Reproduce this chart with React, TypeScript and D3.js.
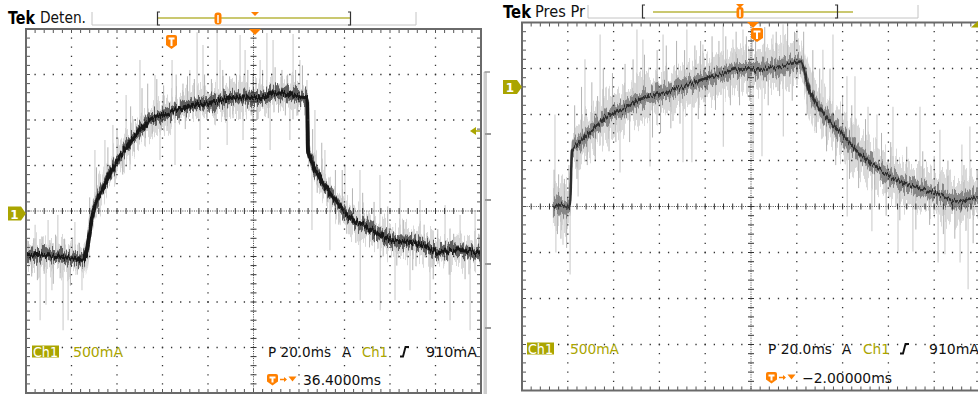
import React, { useEffect } from 'react';
import * as d3 from 'd3';

const W = 978;
const H = 394;

// ---- scope settings ----
const hDivisions = 10;
const vDivisions = 8;
const timePerDivMs = 20;
const currentPerDivMa = 500;

// ---- left capture ("Deten.") : time in ms from left edge, current in mA from screen centre ----
const leftTimeMs = [0, 6, 13, 19, 25, 26, 29.5, 34, 41, 49, 54.5, 63, 73, 81, 93, 103, 110, 117, 123.5, 124, 129, 135, 142, 150, 161, 172, 182, 191, 200];
const leftCurrentMa = [-500, -480, -495, -515, -535, -505, -10, 265, 590, 855, 1000, 1080, 1165, 1190, 1250, 1240, 1295, 1270, 1245, 670, 375, 155, -65, -175, -320, -350, -450, -430, -460];
// tall faint spikes
const leftSpikeTimeMs = [4, 6.2, 8.8, 9.7, 11.4, 14, 16.3, 18.5, 21.5, 24.6, 30.3, 34.7, 38.2, 44, 45.7, 50.1, 56.7, 58.9, 64.2, 65.5, 72, 75.2, 76.5, 77.8, 84, 85.3, 88.4, 94.1, 95.4, 96.3, 102.9, 105.9, 107.3, 108.6, 116, 117.4, 120.4, 123.5, 125.7, 127, 131.4, 133.6, 140.2, 146.8, 146.9, 155.6, 155.7, 162.2, 164.4, 168.8, 173.2, 177.6, 184.2, 186.4, 190.8, 195.2, 197.4];
const leftSpikeEndMa = [-150, -1200, -1030, -100, -870, -45, -1310, -1200, -120, -870, 670, 780, 945, 1275, 450, 1660, 1495, 560, 1660, 505, 1550, 1965, 670, 1825, 1955, 1660, 725, 1935, 780, 1770, 1660, 1955, 670, 1880, 780, 1945, 1660, 1440, -210, 1110, 670, -430, 505, 450, -980, 395, -1090, -980, 340, -870, 120, -980, 65, -1200, -45, -1310, 10];
// shorter, denser noise
const leftFuzzTimeMs = [1, 2.5, 3.5, 5, 7, 8, 10.5, 12, 13, 15, 17, 19.5, 20.5, 22.5, 23.5, 28, 31, 32.5, 36, 37.5, 40, 42.5, 46, 47.5, 51, 52.5, 53.5, 55.5, 57.5, 59.5, 60.5, 62, 66, 67.5, 69, 70, 71, 74, 78.5, 79.5, 81.5, 83, 86.5, 87.5, 89.5, 91, 92.5, 97.5, 99, 100, 101.5, 104, 106.5, 109.5, 111, 112.5, 114, 115, 118.5, 119.5, 121.5, 122.5, 126, 128, 130, 132.5, 136, 137.5, 139, 141, 143.5, 145, 148, 151, 153, 157, 159, 163, 166, 170, 175, 179, 181, 186, 188, 193, 199];
const leftFuzzEndMa = [-330, -720, -300, -760, -280, -690, -320, -800, -260, -740, -310, -820, -290, -700, -350, 150, 480, 150, 700, 350, 900, 400, 1150, 650, 1350, 800, 1400, 850, 1450, 900, 1380, 880, 1500, 950, 1400, 900, 1480, 1450, 1500, 1000, 1450, 1050, 1550, 1000, 1480, 1020, 1500, 1550, 1050, 1500, 1000, 1550, 1020, 1580, 1080, 1550, 1050, 1500, 1550, 1050, 1600, 1050, 900, 200, 750, 100, 450, -150, 450, -250, 250, -350, 200, -400, 100, -500, 50, -600, -100, -650, -150, -750, -200, -700, -250, -750, -250];

// ---- right capture ("Pres Pr") ----
const rightTimeMs = [13.5, 16.5, 19, 21, 21.8, 25, 29.7, 37, 44, 51.5, 58, 66, 73, 81, 88, 95, 102.6, 109.6, 116, 121.4, 125.8, 131.4, 139, 149, 160.7, 170.7, 182.5, 190, 198.7, 200];
const rightCurrentMa = [0, 25, -10, 0, 620, 700, 805, 975, 1060, 1165, 1210, 1270, 1330, 1400, 1440, 1490, 1490, 1510, 1540, 1575, 1240, 1020, 805, 545, 325, 215, 130, 55, 100, 80];
const rightSpikeTimeMs = [14.4, 14.8, 17.9, 21, 24.5, 27.5, 34.1, 42.8, 50.2, 52.8, 55.9, 61.6, 70.3, 72, 74.2, 79, 87.8, 87.9, 92.1, 96.5, 100.9, 104.8, 109.6, 114, 114.1, 120.1, 131.4, 135.8, 141.9, 142, 145.4, 151.1, 152.8, 155, 162, 164.2, 170.7, 173.8, 181.7, 182.5, 184.7, 191.3, 192.1, 194.8, 195.6];
const rightSpikeEndMa = [1000, -500, -415, -740, 110, 1600, 1870, 370, 1925, 1815, 435, 1870, 480, 1925, 480, 1760, 1980, 650, 1815, 1925, 510, 545, 1870, 1980, 760, 1925, 1705, 1870, 1415, -110, 1415, 1085, -270, 1000, 1085, -490, -490, 1085, -610, 835, -520, -610, 675, -900, 870];
const rightFuzzTimeMs = [14, 15.5, 16, 17, 18.5, 19.5, 20.5, 23, 24, 26, 28.5, 30.5, 32, 33, 35.5, 38, 39.5, 41, 45, 47, 48.5, 53.5, 57, 59, 60.5, 63, 65, 67.5, 69, 71, 75.5, 77, 78, 80, 83, 84.5, 86, 89, 91, 93.5, 95, 98, 99.5, 102, 106, 107.5, 111, 112.5, 116, 118, 119, 123, 124.5, 127, 128.5, 130, 133, 134.5, 137, 140, 143, 144, 147, 150, 154, 157, 159, 161, 165, 168, 172, 175, 178, 180, 184, 186, 189, 193, 197, 199];
const rightFuzzEndMa = [400, -300, 350, -350, 300, -450, 450, 1100, 300, 1300, 450, 1350, 500, 1200, 1500, 600, 1450, 700, 1550, 700, 1600, 1650, 750, 1700, 800, 1750, 850, 1800, 900, 1700, 1750, 950, 1800, 1000, 1850, 1050, 1800, 1850, 1100, 1900, 1100, 1850, 1150, 1900, 1950, 1100, 1900, 1200, 1950, 1150, 1900, 1900, 1000, 1700, 800, 1500, 600, 1500, 450, 1200, 300, 1100, 200, 950, 0, 800, -100, 700, -150, 650, -250, 600, -200, 550, -300, 500, -350, 450, -400, 400];

// marker / readout texts
const leftTitle = 'Deten.';
const rightTitle = 'Pres Pr';
const channelLabel = 'Ch1';
const scaleLabel = '500mA';
const timebaseLabel = 'P 20.0ms';
const acqLabel = 'A';
const trigLevelLabel = '910mA';
const leftDelayLabel = '36.4000ms';
const rightDelayLabel = '\u22122.00000ms';

const OLIVE = '#aaa500';
const ORANGE = '#ff8000';
const FONT = "'DejaVu Sans', 'Liberation Sans', sans-serif";

function interp(ts: number[], vs: number[], t: number) {
  const i = d3.bisectRight(ts, t);
  if (i <= 0) return vs[0];
  if (i >= ts.length) return vs[vs.length - 1];
  const t0 = ts[i - 1], t1 = ts[i];
  const f = (t - t0) / (t1 - t0);
  return vs[i - 1] + f * (vs[i] - vs[i - 1]);
}

type Geo = { x0: number; x1: number; y0: number; y1: number };

function Grid({ g }: { g: Geo }) {
  const dx = (g.x1 - g.x0) / hDivisions;
  const dy = (g.y1 - g.y0) / vDivisions;
  const els: JSX.Element[] = [];
  const mx = dx / 5, my = dy / 5;
  for (let i = 1; i < hDivisions; i++) {
    if (i === hDivisions / 2) continue;
    const x = g.x0 + i * dx;
    els.push(<line key={'v' + i} x1={x} x2={x} y1={g.y0} y2={g.y1} stroke="#333" strokeWidth={1.3}
      strokeDasharray={`1.3 ${my - 1.3}`} strokeDashoffset={0.65} />);
  }
  for (let j = 1; j < vDivisions; j++) {
    if (j === vDivisions / 2) continue;
    const y = g.y0 + j * dy;
    els.push(<line key={'h' + j} x1={g.x0} x2={g.x1} y1={y} y2={y} stroke="#333" strokeWidth={1.3}
      strokeDasharray={`1.3 ${mx - 1.3}`} strokeDashoffset={0.65} />);
  }
  const cx = g.x0 + dx * hDivisions / 2;
  const cy = g.y0 + dy * vDivisions / 2;
  els.push(<line key="cx" x1={cx} x2={cx} y1={g.y0} y2={g.y1} stroke="#444" strokeWidth={1} strokeDasharray="1 1.3" />);
  els.push(<line key="cy" x1={g.x0} x2={g.x1} y1={cy} y2={cy} stroke="#444" strokeWidth={1} strokeDasharray="1 1.3" />);
  for (let k = 1; k < hDivisions * 5; k++) {
    const x = g.x0 + k * mx;
    els.push(<line key={'tcx' + k} x1={x} x2={x} y1={cy - 3} y2={cy + 3} stroke="#333" strokeWidth={1} />);
    els.push(<line key={'tt' + k} x1={x} x2={x} y1={g.y0} y2={g.y0 + 4} stroke="#555" strokeWidth={1} />);
    els.push(<line key={'tb' + k} x1={x} x2={x} y1={g.y1} y2={g.y1 - 4} stroke="#555" strokeWidth={1} />);
  }
  for (let k = 1; k < vDivisions * 5; k++) {
    const y = g.y0 + k * my;
    els.push(<line key={'tcy' + k} x1={cx - 3} x2={cx + 3} y1={y} y2={y} stroke="#333" strokeWidth={1} />);
    els.push(<line key={'tl' + k} x1={g.x0} x2={g.x0 + 4} y1={y} y2={y} stroke="#555" strokeWidth={1} />);
    els.push(<line key={'tr' + k} x1={g.x1} x2={g.x1 - 4} y1={y} y2={y} stroke="#555" strokeWidth={1} />);
  }
  els.push(<rect key="border" x={g.x0} y={g.y0} width={g.x1 - g.x0} height={g.y1 - g.y0} fill="none" stroke="#6a6a6a" strokeWidth={2} />);
  return <g>{els}</g>;
}

function Trace({ g, id, ts, vs, sT, sV, fT, fV, halo, mid, coreW, coreC, midC }: {
  g: Geo; id: string; ts: number[]; vs: number[]; sT: number[]; sV: number[]; fT: number[]; fV: number[];
  halo: number; mid: number; coreW: number; coreC: string; midC: string;
}) {
  const x = d3.scaleLinear().domain([0, hDivisions * timePerDivMs]).range([g.x0, g.x1]);
  const y = d3.scaleLinear().domain([-currentPerDivMa * vDivisions / 2, currentPerDivMa * vDivisions / 2]).range([g.y1, g.y0]);
  const idx = d3.range(ts.length);
  const curve = d3.curveMonotoneX;
  const area = (w: number) => d3.area<number>().curve(curve).x(i => x(ts[i])).y0(i => y(vs[i] - w)).y1(i => y(vs[i] + w))(idx) || '';
  const line = d3.line<number>().curve(curve).x(i => x(ts[i])).y(i => y(vs[i]))(idx) || '';
  return (
    <g clipPath={`url(#${id})`}>
      <g filter="url(#streakBig)">
        <path d={area(halo)} fill="#d0d0d0" opacity={0.8} />
      </g>
      {sT.map((t, i) => (
        <line key={'s' + i} x1={x(t)} x2={x(t)} y1={y(interp(ts, vs, t))} y2={y(sV[i])} stroke="#cdcdcd" strokeWidth={1.1} />
      ))}
      {fT.map((t, i) => (
        <line key={'f' + i} x1={x(t)} x2={x(t)} y1={y(interp(ts, vs, t))} y2={y(fV[i])} stroke="#b4b4b4" strokeWidth={1} />
      ))}
      <g filter="url(#streakMid)">
        <path d={area(mid)} fill={midC} opacity={0.85} />
      </g>
      <g filter="url(#streakSmall)">
        <path d={line} fill="none" stroke={coreC} strokeWidth={coreW} strokeLinejoin="round" />
      </g>
    </g>
  );
}

function StreakFilter({ id, scale, seed, freq }: { id: string; scale: number; seed: number; freq: string }) {
  return (
    <filter id={id} filterUnits="userSpaceOnUse" x={0} y={0} width={W} height={H}>
      <feTurbulence type="fractalNoise" baseFrequency={freq} numOctaves={2} seed={seed} result="noise" />
      <feComponentTransfer in="noise" result="vnoise">
        <feFuncR type="linear" slope={0} intercept={0.5} />
        <feFuncG type="linear" slope={2.2} intercept={-0.6} />
      </feComponentTransfer>
      <feDisplacementMap in="SourceGraphic" in2="vnoise" scale={scale} xChannelSelector="R" yChannelSelector="G" />
    </filter>
  );
}

function TBox({ x, y, w, h }: { x: number; y: number; w: number; h: number }) {
  const d = `M${x + 2},${y} H${x + w - 2} Q${x + w},${y} ${x + w},${y + 2} V${y + h - 4} L${x + w / 2},${y + h} L${x},${y + h - 4} V${y + 2} Q${x},${y} ${x + 2},${y} Z`;
  return (
    <g>
      <path d={d} fill={ORANGE} />
      <path d={`M${x + 2.5},${y + 3.5} H${x + w - 2.5} M${x + w / 2},${y + 3.5} V${y + h - 3}`} stroke="#fff" strokeWidth={2} fill="none" />
    </g>
  );
}

function EdgeSym({ x, base }: { x: number; base: number }) {
  return <path d={`M${x},${base} h3 l2.5,-9.5 h3.5`} stroke="#111" strokeWidth={1.9} fill="none" />;
}

function Readout({ chX, chY, base, scaleX, pX, aX, ch2X, edgeX, trigX, base2, tX, delay, delayX, widths }: any) {
  return (
    <g fontFamily={FONT} fontSize={13.5}>
      <rect x={chX} y={chY} width={widths.chBox} height={12} fill={OLIVE} />
      <text x={chX + 1} y={base} fill="#fff" textLength={widths.chBox - 2} lengthAdjust="spacingAndGlyphs">{channelLabel}</text>
      <text x={scaleX} y={base} fill={OLIVE} textLength={widths.scale} lengthAdjust="spacingAndGlyphs">{scaleLabel}</text>
      <text x={pX} y={base} fill="#111" textLength={widths.p} lengthAdjust="spacingAndGlyphs">{timebaseLabel}</text>
      <text x={aX} y={base} fill="#111">{acqLabel}</text>
      <text x={ch2X} y={base} fill={OLIVE} textLength={widths.ch} lengthAdjust="spacingAndGlyphs">{channelLabel}</text>
      <EdgeSym x={edgeX} base={base} />
      <text x={trigX} y={base} fill="#111" textLength={widths.trig} lengthAdjust="spacingAndGlyphs">{trigLevelLabel}</text>
      <TBox x={tX} y={base2 - 10.5} w={11} h={11.5} />
      <line x1={tX + 13} x2={tX + 19} y1={base2 - 5} y2={base2 - 5} stroke={ORANGE} strokeWidth={1.5} />
      <path d={`M${tX + 17},${base2 - 7.5} L${tX + 20},${base2 - 5} L${tX + 17},${base2 - 2.5} Z`} fill={ORANGE} />
      <path d={`M${tX + 21.5},${base2 - 8} H${tX + 29.5} L${tX + 25.5},${base2 - 3} Z`} fill={ORANGE} />
      <text x={delayX} y={base2} fill="#111" textLength={widths.delay} lengthAdjust="spacingAndGlyphs">{delay}</text>
    </g>
  );
}

export default function App() {
  useEffect(() => {
    document.body.style.margin = '0';
    document.body.style.background = '#fff';
  }, []);

  const L: Geo = { x0: 26, x1: 481, y0: 29, y1: 393 };
  const R: Geo = { x0: 522, x1: 980, y0: 22.5, y1: 390.5 };

  return (
    <svg width={W} height={H} viewBox={`0 0 ${W} ${H}`} style={{ display: 'block', background: '#fff' }}>
      <defs>
        <clipPath id="clipL"><rect x={L.x0 + 1} y={L.y0 + 1} width={L.x1 - L.x0 - 2} height={L.y1 - L.y0 - 2} /></clipPath>
        <clipPath id="clipR"><rect x={R.x0 + 1} y={R.y0 + 1} width={R.x1 - R.x0 - 2} height={R.y1 - R.y0 - 2} /></clipPath>
        <StreakFilter id="streakBig" scale={22} seed={4} freq="0.45 0.02" />
        <StreakFilter id="streakMid" scale={10} seed={9} freq="0.55 0.03" />
        <StreakFilter id="streakSmall" scale={5} seed={2} freq="0.7 0.05" />
      </defs>

      {/* ---------- LEFT SCREEN ---------- */}
      <Trace g={L} id="clipL" ts={leftTimeMs} vs={leftCurrentMa} sT={leftSpikeTimeMs} sV={leftSpikeEndMa}
        fT={leftFuzzTimeMs} fV={leftFuzzEndMa} halo={140} mid={65} coreW={4} coreC="#151515" midC="#4a4a4a" />
      <Grid g={L} />

      {/* header left */}
      <text x={8} y={23.5} fontFamily="'DejaVu Sans', sans-serif" fontWeight="bold" fontSize={18} fill="#000" textLength={27} lengthAdjust="spacingAndGlyphs">Tek</text>
      <text x={40} y={23} fontFamily={FONT} fontSize={15} fill="#111" textLength={46} lengthAdjust="spacingAndGlyphs">{leftTitle}</text>
      <path d="M92,12 V25 H416 V12" fill="none" stroke="#c4c4c4" strokeWidth={1} />
      <line x1={157} x2={351} y1={18} y2={18} stroke="#b8b640" strokeWidth={1.6} />
      <path d="M160,12 H157.5 V25 H160 M348,12 H350.5 V25 H348" fill="none" stroke="#333" strokeWidth={1.2} />
      <rect x={214.5} y={12.5} width={7} height={12} rx={3} fill={ORANGE} />
      <line x1={218} x2={218} y1={15} y2={23} stroke="#fff" strokeWidth={1.5} />
      <path d="M251,12 H259 L255,16 Z" fill={ORANGE} />
      <path d="M249,29 H261 L255,35 Z" fill={ORANGE} />
      <TBox x={166} y={35} w={11} h={14} />

      {/* ground marker left */}
      <path d="M8,206.5 H21 L26,213.5 L21,220.5 H8 Z" fill={OLIVE} />
      <text x={14.5} y={218.5} fontFamily={FONT} fontSize={12} fontWeight="bold" fill="#fff" textAnchor="middle">1</text>

      {/* olive arrow + side bar */}
      <path d="M470,131 L476,127 L476,135 Z" fill={OLIVE} />
      <line x1={475} x2={480} y1={131} y2={131} stroke={OLIVE} strokeWidth={1.5} />
      <rect x={483.5} y={72} width={3.5} height={322} fill="#cdcdcd" />
      <path d="M490,72 H484.5" stroke="#999" strokeWidth={1.5} />
      {[134, 200, 264, 328].map(v => <line key={v} x1={485} x2={491} y1={v} y2={v} stroke="#9a9a9a" strokeWidth={2} />)}

      <Readout chX={32} chY={345.5} base={356.5} scaleX={73} pX={268} aX={342} ch2X={362} edgeX={400} trigX={426}
        base2={384.5} tX={267} delay={leftDelayLabel} delayX={303}
        widths={{ chBox: 27, scale: 50, p: 63, ch: 26, trig: 51, delay: 78 }} />

      {/* ---------- RIGHT SCREEN ---------- */}
      <Trace g={R} id="clipR" ts={rightTimeMs} vs={rightCurrentMa} sT={rightSpikeTimeMs} sV={rightSpikeEndMa}
        fT={rightFuzzTimeMs} fV={rightFuzzEndMa} halo={220} mid={80} coreW={2.6} coreC="#2e2e2e" midC="#7a7a7a" />
      <Grid g={R} />

      <text x={503} y={17.5} fontFamily="'DejaVu Sans', sans-serif" fontWeight="bold" fontSize={18} fill="#000" textLength={28} lengthAdjust="spacingAndGlyphs">Tek</text>
      <text x={535} y={17} fontFamily={FONT} fontSize={15} fill="#111" textLength={50} lengthAdjust="spacingAndGlyphs">{rightTitle}</text>
      <path d="M588,5 V18 H918 V5" fill="none" stroke="#c4c4c4" strokeWidth={1} />
      <line x1={653} x2={853} y1={12} y2={12} stroke="#b8b640" strokeWidth={1.6} />
      <path d="M645,5 H642.5 V18 H645 M835,5 H837.5 V18 H835" fill="none" stroke="#333" strokeWidth={1.2} />
      <rect x={736.5} y={7} width={7} height={11.5} rx={3} fill={ORANGE} />
      <line x1={740} x2={740} y1={9.5} y2={17} stroke="#fff" strokeWidth={1.5} />
      <path d="M736,4 H744 L740,8 Z" fill={ORANGE} />
      <path d="M747,22 H759 L753,28 Z" fill={ORANGE} />
      <TBox x={751} y={28} w={12} h={14} />
      <path d="M971,27.5 L978,21 L978,27.5 Z" fill={OLIVE} />

      <path d="M503,80 H517 L522,87 L517,94 H503 Z" fill={OLIVE} />
      <text x={510} y={92} fontFamily={FONT} fontSize={12} fontWeight="bold" fill="#fff" textAnchor="middle">1</text>

      <Readout chX={527} chY={342.5} base={353.5} scaleX={570} pX={768} aX={842} ch2X={863} edgeX={900} trigX={929}
        base2={382.5} tX={766} delay={rightDelayLabel} delayX={802}
        widths={{ chBox: 27, scale: 49, p: 64, ch: 27, trig: 50, delay: 90 }} />
    </svg>
  );
}
